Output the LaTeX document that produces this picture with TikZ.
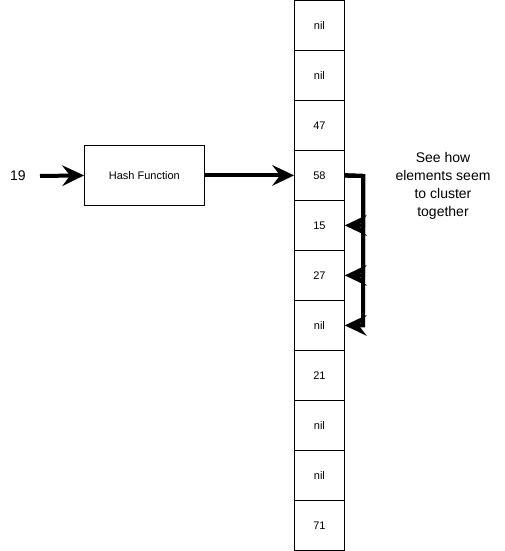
\documentclass[tikz,border=0pt]{standalone}
\usepackage{fontspec}
\setmainfont{Liberation Sans}
\usetikzlibrary{arrows.meta}
\begin{document}
\begin{tikzpicture}[x=1pt,y=-1pt,
  cell/.style={draw=black,line width=0.8pt,minimum width=50pt,minimum height=50pt,inner sep=0pt,font=\fontsize{11}{13}\selectfont,anchor=north west},
  hbox/.style={draw=black,line width=0.8pt,minimum width=120pt,minimum height=60pt,inner sep=0pt,font=\fontsize{11}{13}\selectfont,anchor=north west},
  bigarrow/.style={line width=4pt,-{Stealth[length=22pt,width=21pt,inset=8pt,line width=0pt]}},
  lbl/.style={font=\fontsize{14}{18}\selectfont,align=center}]
\useasboundingbox (0,0) rectangle (505,551);
\foreach \v [count=\i from 0] in {nil,nil,47,58,15,27,nil,21,nil,nil,71}{
  \node[cell] (c\i) at (294,{\i*50}) {\v};
}
\node[hbox] (hf) at (84,145) {Hash Function};
\node[lbl] (in) at (18,176) {19};
\coordinate (inS) at (40,176);
\draw[bigarrow] (inS) -- (hf.west);
\draw[bigarrow] (hf.east) -- (c3.west);
\node[lbl] (note) at (443,186) {See how\\elements seem\\to cluster\\together};
\coordinate (r) at (363,176);
\draw[bigarrow] (c3.east) -- (r) |- (c4.east);
\draw[bigarrow] (c3.east) -- (r) |- (c5.east);
\draw[bigarrow] (c3.east) -- (r) |- (c6.east);
\end{tikzpicture}
\end{document}
